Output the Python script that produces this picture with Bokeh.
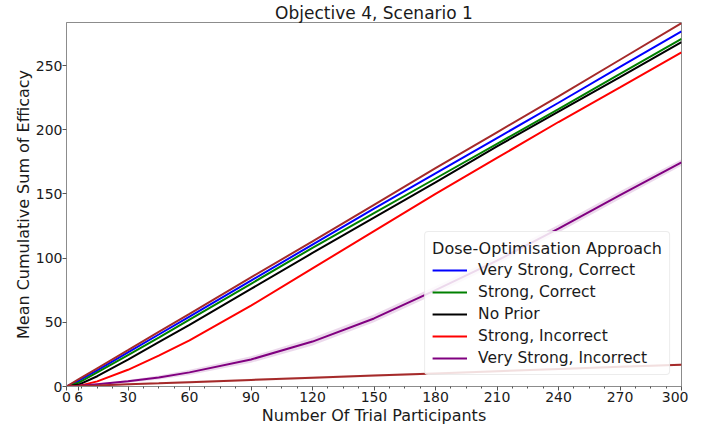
from bokeh.plotting import figure
from bokeh.models import Range1d, FixedTicker, Legend, LegendItem
from bokeh.embed import file_html
from bokeh.resources import INLINE

# ---- data ----
x = [0, 6, 15, 30, 45, 60, 90, 120, 150, 180, 210, 240, 270, 300]
very_strong_correct = [0, 4.5, 12.5, 26.5, 40.5, 54.5, 82.5, 110.5, 138.5, 166, 193.5, 221, 249, 276.5]
strong_correct = [0, 3, 11, 24.5, 38, 52, 80, 108, 135, 162, 189, 216, 243.5, 270.8]
no_prior = [0, 1.5, 8, 21, 34.5, 48, 76, 104, 131.5, 159, 187, 214, 241, 268.3]
strong_incorrect = [0, 0.5, 4, 13, 24, 36, 63, 92, 121, 150, 178, 206, 233, 260.3]
very_strong_incorrect = [0, 0.5, 1.8, 4, 7, 11, 21, 35, 53, 75, 98, 123, 149, 174.5]
very_strong_incorrect_lo = [0, 0.2, 1.2, 3, 5.5, 9, 18.5, 32, 50, 72, 95, 120, 146, 172]
very_strong_incorrect_hi = [0, 0.8, 2.4, 5, 8.5, 13, 23.5, 38, 56, 78, 101, 126, 152, 177]
best_possible = [0, 5.7, 14.2, 28.3, 42.5, 56.6, 85, 113, 141.5, 170, 198, 226, 254.5, 283]
worst_possible = [0, 0.3, 0.8, 1.7, 2.5, 3.4, 5.1, 6.8, 8.5, 10.2, 11.9, 13.6, 15.3, 17]
worst_lo = [0, 0, 0.2, 1.0, 1.7, 2.6, 4.2, 5.9, 7.6, 9.3, 11.0, 12.7, 14.4, 16.1]
worst_hi = [0, 0.6, 1.4, 2.4, 3.3, 4.2, 6.0, 7.7, 9.4, 11.1, 12.8, 14.5, 16.2, 17.9]

x_ticks = [0, 6, 30, 60, 90, 120, 150, 180, 210, 240, 270, 300]
x_minor = [7.5 * i for i in range(41) if (7.5 * i) % 30 != 0]
y_ticks = [0, 50, 100, 150, 200, 250]

series = [
    ("Very Strong, Correct", very_strong_correct, "#0000ff"),
    ("Strong, Correct", strong_correct, "#008000"),
    ("No Prior", no_prior, "#000000"),
    ("Strong, Incorrect", strong_incorrect, "#ff0000"),
    ("Very Strong, Incorrect", very_strong_incorrect, "#800080"),
]

FONT = "DejaVu Sans"
TXT = "#1a1a1a"

p = figure(width=688, height=427, output_backend="svg", toolbar_location=None,
           x_range=Range1d(0, 300), y_range=Range1d(0, 283.5),
           min_border_left=66, min_border_right=7, min_border_top=15, min_border_bottom=35)

p.title.text = "Objective 4, Scenario 1"
p.title.align = "center"
p.title.text_font = FONT
p.title.text_font_size = "17px"
p.title.text_font_style = "normal"
p.title.text_color = TXT
p.title.standoff = 0
p.title.offset = 0

p.xgrid.visible = False
p.ygrid.visible = False
p.outline_line_color = "#8c8c8c"
p.outline_line_width = 1

p.xaxis.ticker = FixedTicker(ticks=x_ticks, minor_ticks=x_minor)
p.yaxis.ticker = FixedTicker(ticks=y_ticks)
p.xaxis.axis_label = "Number Of Trial Participants"
p.yaxis.axis_label = "Mean Cumulative Sum of Efficacy"
for ax in (p.xaxis, p.yaxis):
    ax.axis_label_text_font = FONT
    ax.axis_label_text_font_size = "16px"
    ax.axis_label_text_font_style = "normal"
    ax.axis_label_text_color = TXT
    ax.major_label_text_font = FONT
    ax.major_label_text_font_size = "14px"
    ax.major_label_text_color = TXT
    ax.axis_line_color = "#8c8c8c"
    ax.major_tick_line_color = "#555555"
    ax.minor_tick_line_color = "#555555"
    ax.major_tick_in = 0
    ax.major_tick_out = 4
    ax.minor_tick_in = 0
    ax.minor_tick_out = 2
    ax.major_label_standoff = 1
    ax.axis_label_standoff = 1
p.yaxis.major_label_standoff = 0
p.yaxis.axis_label_standoff = 0

p.varea(x=x, y1=very_strong_incorrect_lo, y2=very_strong_incorrect_hi,
        fill_color="#800080", fill_alpha=0.15)
p.varea(x=x, y1=worst_lo, y2=worst_hi, fill_color="#a52a2a", fill_alpha=0.15)

items = []
for name, ys, col in series:
    r = p.line(x, ys, line_color=col, line_width=2)
    items.append(LegendItem(label=name, renderers=[r]))

p.line(x, worst_possible, line_color="#a52a2a", line_width=2)
p.line(x, best_possible, line_color="#a52a2a", line_width=2)

legend = Legend(items=items, location="bottom_right")
legend.title = "Dose-Optimisation Approach"
legend.title_text_font = FONT
legend.title_text_font_size = "16px"
legend.title_text_font_style = "normal"
legend.title_text_color = TXT
legend.title_standoff = 3
legend.label_text_font = FONT
legend.label_text_font_size = "15.5px"
legend.label_text_color = TXT
legend.glyph_width = 35
legend.glyph_height = 18
legend.label_height = 18
legend.spacing = 4
legend.padding = 7
legend.margin = 11
legend.label_standoff = 11
legend.border_line_color = "#d9d9d9"
legend.border_line_width = 1
legend.border_radius = 4
legend.background_fill_alpha = 0.85
p.add_layout(legend)

open("out.html", "w").write(file_html(p, INLINE))
